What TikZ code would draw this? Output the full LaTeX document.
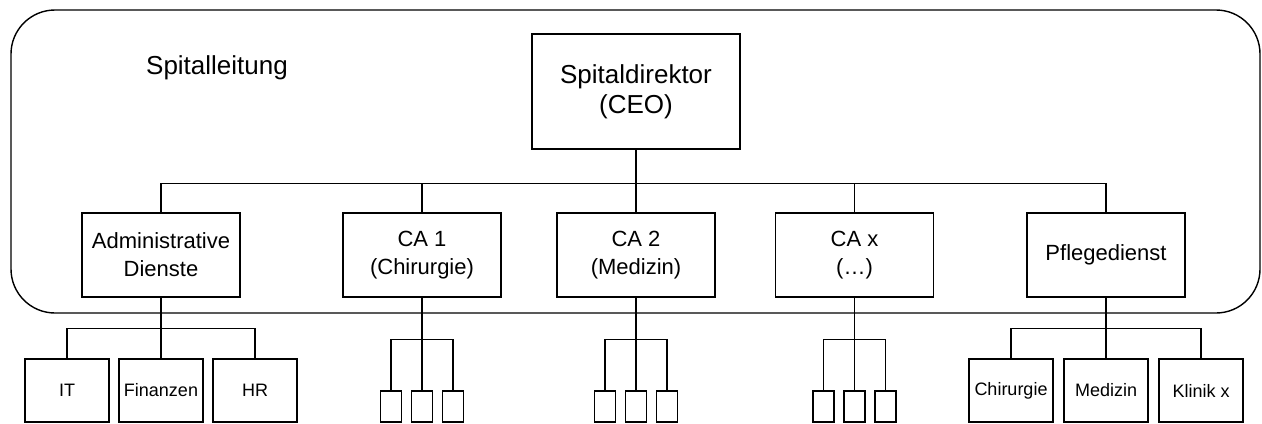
\documentclass[tikz,border=0pt]{standalone}
\usepackage{fontspec}
\setmainfont{Liberation Sans}
\usepackage{tikz}

\begin{document}
\begin{tikzpicture}[x=0.5pt,y=-0.5pt,line width=0.7pt,node distance=2cm]
\tikzstyle{every node}=[text=black]
\tikzstyle{boss}=[draw=black,fill=white,minimum width=104pt,minimum height=57.5pt,align=center,font=\fontsize{13}{15}\selectfont]
\tikzstyle{unit}=[draw=black,fill=white,minimum width=79pt,minimum height=42pt,align=center,font=\fontsize{11}{14}\selectfont]
\tikzstyle{sub}=[draw=black,fill=white,minimum width=42pt,minimum height=31.5pt,inner sep=1pt,font=\fontsize{9}{11}\selectfont]
\tikzstyle{tiny}=[draw=black,fill=white,minimum width=10.5pt,minimum height=15.5pt,inner sep=0pt]
\useasboundingbox (0,0) rectangle (1262,423);
\draw[rounded corners=22pt] (11,10) rectangle (1260,313);
\node[font=\fontsize{13}{15}\selectfont] (title) at (217,68) {Spitalleitung};
\node[boss] (ceo) at (636,91.5) {Spitaldirektor\\(CEO)};
\node[unit] (ca2) [below of=ceo,node distance=81.75pt] {CA 2\\(Medizin)};
\node[unit] (ca1) [left of=ca2,node distance=107pt] {CA 1\\(Chirurgie)};
\node[unit] (adm) [left of=ca1,node distance=130.5pt] {Administrative\\Dienste};
\node[unit] (cax) [right of=ca2,node distance=109.25pt] {CA x\\(…)};
\node[unit] (pfl) [right of=cax,node distance=125.75pt] {Pflegedienst};
% administrative dienste
\node[sub] (fin) [below of=adm,node distance=67.75pt] {Finanzen};
\node[sub] (it) [left of=fin,node distance=47pt] {IT};
\node[sub] (hr) [right of=fin,node distance=47pt] {HR};
% chefarzt bereiche
\node[tiny] (c1b) [below of=ca1,node distance=75.75pt] {};
\node[tiny] (c1a) [left of=c1b,node distance=15.5pt] {};
\node[tiny] (c1c) [right of=c1b,node distance=15.5pt] {};
\node[tiny] (c2b) [below of=ca2,node distance=75.75pt] {};
\node[tiny] (c2a) [left of=c2b,node distance=15.5pt] {};
\node[tiny] (c2c) [right of=c2b,node distance=15.5pt] {};
\node[tiny] (cxb) [below of=cax,node distance=75.75pt] {};
\node[tiny] (cxa) [left of=cxb,node distance=15.5pt] {};
\node[tiny] (cxc) [right of=cxb,node distance=15.5pt] {};
% pflege
\node[sub] (med) [below of=pfl,node distance=67.75pt] {Medizin};
\node[sub] (chi) [left of=med,node distance=47.5pt] {Chirurgie};
\node[sub] (kli) [right of=med,node distance=47.5pt] {Klinik x};
\draw (ceo.south) -- ++(0,34) coordinate (hub);
\draw (hub) -| (adm.north) (hub) -| (ca1.north) (hub) -| (ca2.north)
      (hub) -| (cax.north) (hub) -| (pfl.north);
\draw (adm.south) -- ++(0,31) coordinate (admhub);
\draw (admhub) -| (it.north) (admhub) -| (fin.north) (admhub) -| (hr.north);
\draw (ca1.south) -- ++(0,42) coordinate (ca1hub);
\draw (ca1hub) -| (c1a.north) (ca1hub) -| (c1b.north) (ca1hub) -| (c1c.north);
\draw (ca2.south) -- ++(0,42) coordinate (ca2hub);
\draw (ca2hub) -| (c2a.north) (ca2hub) -| (c2b.north) (ca2hub) -| (c2c.north);
\draw (cax.south) -- ++(0,42) coordinate (caxhub);
\draw (caxhub) -| (cxa.north) (caxhub) -| (cxb.north) (caxhub) -| (cxc.north);
\draw (pfl.south) -- ++(0,31) coordinate (pflhub);
\draw (pflhub) -| (chi.north) (pflhub) -| (med.north) (pflhub) -| (kli.north);
\end{tikzpicture}
\end{document}
